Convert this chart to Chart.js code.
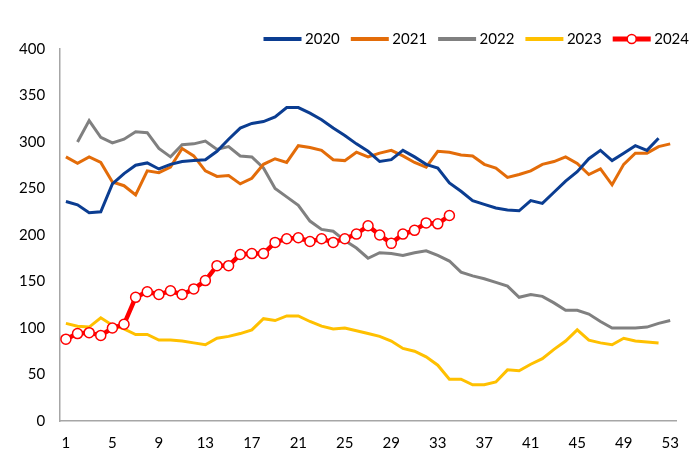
<!DOCTYPE html>
<html>
<head>
<meta charset="utf-8">
<script src="https://cdn.jsdelivr.net/npm/chart.js@4.4.1/dist/chart.umd.min.js"></script>
<style>
html,body{margin:0;padding:0;background:#fff;}
#wrap{width:700px;height:467px;}
</style>
</head>
<body>
<div id="wrap"><canvas id="c" width="700" height="467"></canvas></div>
<script>
const weeks = Array.from({length: 53}, (_, i) => String(i + 1));
const tickLabels = ['1','5','9','13','17','21','25','29','33','37','41','45','49','53'];
const seriesNames = ['2020','2021','2022','2023','2024'];

const y2020 = [236,232.5,224,225,255,266,275,277.5,271,276,279,280,281,290,303,315,320,322,327,337,337,331,324,315,307,298,290,279,281,291,284,276,272,256,247,237,233,229,227,226,237,234,246,258,268,282,291,280,288,296,291,304];
const y2021 = [284,277,284,278,257,253,243,269,267,273,293,285,269,263,264,255,261,276,282,278,296,294,291,281,280,289,284,288,291,285,278,273,290,289,286,285,276,272,262,265,269,276,279,284,277,265,271,254,276,288,288,295,298];
const y2022 = [null,300,323,305,299,303,311,310,293,284,297,298,301,292,295,285,284,272,250,241,232,215,206,204,194,186,175,181,180,178,181,183,178,172,160,156,153,149,145,133,136,134,127,119,119,115,107,100,100,100,101,105,108];
const y2023 = [105,102,101,111,103,99,93,93,87,87,86,84,82,89,91,94,98,110,108,113,113,107,102,99,100,97,94,91,86,78,75,69,60,45,45,39,39,42,55,54,61,67,77,86,98,87,84,82,89,86,85,84];
const y2024 = [88,94,95,92,100,104,133,139,136,140,136,142,151,167,167,179,180,180,192,196,197,193,196,192,196,201,210,200,191,201,205,213,212,221];

const colors = ['#0B3D91','#E36C09','#808080','#FFC000','#FF0000'];
const FONT = 'Lato';

function lineSet(label, data, color, order) {
  return {
    label, data, borderColor: color, backgroundColor: color,
    borderWidth: 3, pointRadius: 0, pointHoverRadius: 0, tension: 0,
    fill: false, order
  };
}

const datasets = [
  lineSet(seriesNames[0], y2020, colors[0], 2),
  lineSet(seriesNames[1], y2021, colors[1], 3),
  lineSet(seriesNames[2], y2022, colors[2], 4),
  lineSet(seriesNames[3], y2023, colors[3], 5),
  {
    label: seriesNames[4], data: y2024, borderColor: colors[4], backgroundColor: colors[4],
    borderWidth: 4.5, tension: 0, fill: false, order: 1,
    pointRadius: 5, pointBorderWidth: 1.5, pointBackgroundColor: '#FFFFFF',
    pointBorderColor: colors[4], pointHoverRadius: 5
  }
];

// draws the legend line symbols (and the 2024 marker) at the legend item boxes
const legendMarker = {
  id: 'legendMarker',
  afterDraw(chart) {
    const lg = chart.legend;
    if (!lg || !lg.legendHitBoxes) return;
    const ctx = chart.ctx;
    ctx.save();
    lg.legendHitBoxes.forEach((hb, i) => {
      const cy = hb.top + hb.height / 2;
      const x0 = hb.left, x1 = hb.left + 38;
      ctx.beginPath();
      ctx.moveTo(x0, cy);
      ctx.lineTo(x1, cy);
      ctx.lineWidth = i === 4 ? 5 : 4;
      ctx.strokeStyle = colors[i];
      ctx.lineCap = 'butt';
      ctx.stroke();
      if (i === 4) {
        ctx.beginPath();
        ctx.arc((x0 + x1) / 2, cy, 4.5, 0, Math.PI * 2);
        ctx.fillStyle = '#FFFFFF';
        ctx.fill();
        ctx.lineWidth = 1.5;
        ctx.strokeStyle = colors[4];
        ctx.stroke();
      }
    });
    ctx.restore();
  }
};

new Chart(document.getElementById('c'), {
  type: 'line',
  data: { labels: weeks, datasets },
  options: {
    responsive: false,
    animation: false,
    devicePixelRatio: 1,
    layout: { padding: { top: 20.5, left: 4, right: 0, bottom: 2 } },
    plugins: {
      tooltip: { enabled: false },
      legend: {
        position: 'top',
        align: 'end',
        maxHeight: 28.5,
        labels: {
          boxWidth: 34,
          boxHeight: 4,
          padding: 11,
          color: '#000',
          font: { family: FONT, size: 15 },
          sort: (a, b) => a.datasetIndex - b.datasetIndex,
          generateLabels(chart) {
            const items = Chart.defaults.plugins.legend.labels.generateLabels(chart);
            items.forEach(it => { it.lineWidth = 0; it.fillStyle = 'rgba(0,0,0,0)'; it.strokeStyle = 'rgba(0,0,0,0)'; });
            return items;
          }
        }
      }
    },
    scales: {
      x: {
        type: 'category',
        offset: true,
        grid: { display: false, drawTicks: false },
        border: { display: true, color: '#A6A6A6', width: 1.5 },
        ticks: {
          autoSkip: false, maxRotation: 0, minRotation: 0, padding: 13,
          color: '#000', font: { family: FONT, size: 15 },
          callback(v, i) { const l = weeks[i]; return tickLabels.includes(l) ? l : ''; }
        }
      },
      y: {
        min: 0, max: 400,
        grid: { display: false, drawTicks: false },
        border: { display: true, color: '#A6A6A6', width: 1.5 },
        ticks: { stepSize: 50, padding: 15, color: '#000', font: { family: FONT, size: 15 } }
      },
      yRight: {
        position: 'right',
        display: true,
        grid: { display: false, drawTicks: false },
        border: { display: false },
        ticks: { display: false },
        afterFit(s) { s.width = 24; }
      }
    }
  },
  plugins: [legendMarker]
});
</script>
</body>
</html>
